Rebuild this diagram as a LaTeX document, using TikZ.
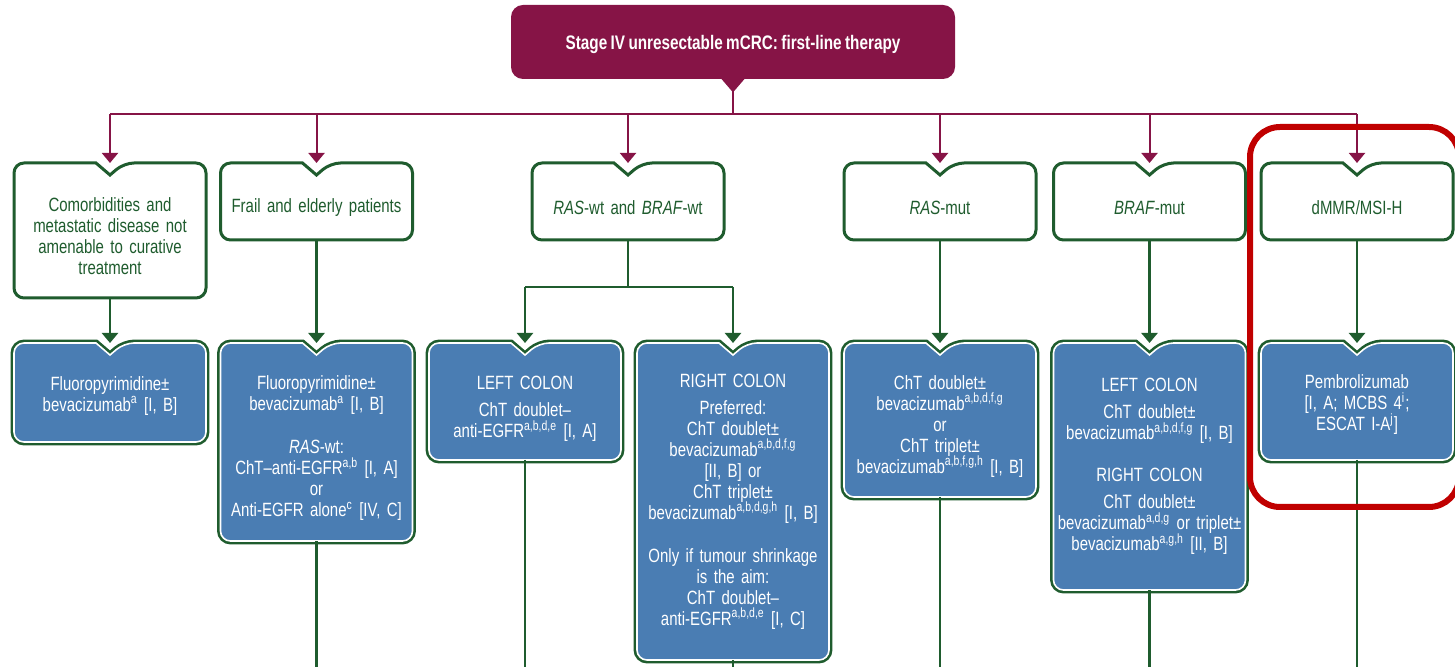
\documentclass[tikz,border=0pt]{standalone}
\usepackage{fontspec}
\setmainfont{Liberation Sans}[FakeStretch=0.78,WordSpace=0.8]
\usetikzlibrary{arrows.meta,backgrounds}
\begin{document}
\begin{tikzpicture}[x=0.5pt,y=-0.5pt,
  card/.style={text width=94pt, inner xsep=1pt, inner ysep=0pt, outer sep=0pt, align=center, font=\fontsize{9.6pt}{10.5pt}\selectfont},
  droptext/.style={execute at begin node={\rule{0pt}{#1}}},
  whitecard/.style={card, text=cardgreen, droptext=13pt},
  bluecard/.style={card, text=white},
  whiteframe/.style={draw=cardgreen, fill=white, line width=1.5pt},
  blueframe/.style={preaction={draw=cardgreen, line width=3.4pt}, fill=cardblue, draw=white, line width=0.8pt},
  trunk/.style={draw=trunkred, line width=1pt},
  link/.style={draw=cardgreen, line width=1.2pt},
  tip/.style={-{Triangle[width=8pt,length=5pt]}},
  focusframe/.style={draw=focusred, line width=3pt, rounded corners=15pt}]
\definecolor{trunkred}{HTML}{861446}
\definecolor{cardgreen}{HTML}{1F5C2E}
\definecolor{cardblue}{HTML}{4A7DB3}
\definecolor{focusred}{HTML}{C00000}
\def\cardpath#1{([xshift=-7pt]#1.north) [rounded corners=5pt] -- (#1.north west) -- (#1.south west) -- (#1.south east) -- (#1.north east) -- ([xshift=7pt]#1.north) [sharp corners] -- ([yshift=-6pt]#1.north) -- cycle}
\useasboundingbox (0,0) rectangle (1455,667);

\coordinate (bus) at (0,114);
\coordinate (split) at (0,287);
\coordinate (base) at (0,672);

\node[fill=trunkred, rounded corners=6pt, minimum width=222pt, minimum height=37pt, text=white, font=\fontsize{9.8pt}{11pt}\selectfont\bfseries] (title) at (733,42) {\rule{0pt}{10pt}Stage IV unresectable mCRC: first-line therapy};
\fill[trunkred] ([xshift=-6pt,yshift=0.5pt]title.south) -- ([yshift=-6.5pt]title.south) -- ([xshift=6pt,yshift=0.5pt]title.south) -- cycle;

\node[whitecard, minimum height=67.5pt] (c1) at (110,230.5) {Comorbidities and\\ metastatic disease not\\ amenable to curative\\ treatment};
\node[whitecard, minimum height=38.5pt] (c2) at (316.5,201.5) {Frail and elderly patients};
\node[whitecard, minimum height=38.5pt] (c3) at (628,201.5) {\textit{RAS}-wt and \textit{BRAF}-wt};
\node[whitecard, minimum height=38.5pt] (c4) at (940,201.5) {\textit{RAS}-mut};
\node[whitecard, minimum height=38.5pt] (c5) at (1149.5,201.5) {\textit{BRAF}-mut};
\node[whitecard, minimum height=38.5pt] (c6) at (1357,201.5) {dMMR/MSI-H};

\node[bluecard, droptext=10pt, minimum height=49.5pt] (b1) at (110,392.5) {Fluoropyrimidine±\\ bevacizumab\textsuperscript{a} [I, B]};
\node[bluecard, droptext=13pt, minimum height=99pt] (b2) at (316.5,442) {Fluoropyrimidine±\\ bevacizumab\textsuperscript{a} [I, B]\\[11pt] \textit{RAS}-wt:\\ ChT–anti-EGFR\textsuperscript{a,b} [I, A]\\ or\\ Anti-EGFR alone\textsuperscript{c} [IV, C]};
\node[bluecard, droptext=14pt, minimum height=58.5pt] (b3) at (525,401.5) {LEFT COLON\\[3pt] ChT doublet–\\ anti-EGFR\textsuperscript{a,b,d,e} [I, A]};
\node[bluecard, minimum height=158.5pt] (b4) at (733,501.5) {RIGHT COLON\\[3pt] Preferred:\\ ChT doublet±\\ bevacizumab\textsuperscript{a,b,d,f,g}\\ {[II, B]} or\\ ChT triplet±\\ bevacizumab\textsuperscript{a,b,d,g,h} [I, B]\\[11pt] Only if tumour shrinkage\\ is the aim:\\ ChT doublet–\\ anti-EGFR\textsuperscript{a,b,d,e} [I, C]};
\node[bluecard, droptext=13pt, minimum height=77pt] (b5) at (940,420) {ChT doublet±\\ bevacizumab\textsuperscript{a,b,d,f,g}\\ or\\ ChT triplet±\\ bevacizumab\textsuperscript{a,b,f,g,h} [I, B]};
\node[bluecard, minimum height=123.5pt] (b6) at (1149.5,466.5) {LEFT COLON\\[3pt] ChT doublet±\\ bevacizumab\textsuperscript{a,b,d,f,g} [I, B]\\[10.5pt] RIGHT COLON\\[3pt] ChT doublet±\\ bevacizumab\textsuperscript{a,d,g} or triplet±\\ bevacizumab\textsuperscript{a,g,h} [II, B]};
\node[bluecard, droptext=10pt, minimum height=58.5pt] (b7) at (1357,401.5) {Pembrolizumab\\ {[I, A; MCBS 4\textsuperscript{i};}\\ ESCAT I-A\textsuperscript{j}]};

\begin{scope}[on background layer]
  \foreach \i in {1,...,6} \draw[whiteframe] \cardpath{c\i};
  \foreach \i in {1,...,7} \draw[blueframe] \cardpath{b\i};
\end{scope}

\draw[trunk] ([yshift=-6pt]title.south) -- (title.south |- bus);
\draw[trunk] (c1.north |- bus) -- (c6.north |- bus);
\foreach \i in {1,...,6} \draw[trunk,tip] (c\i.north |- bus) -- (c\i.north);

\foreach \i/\j in {1/1,2/2,4/5,5/6,6/7} \draw[link,tip] (c\i.south) -- (b\j.north);
\draw[link] (c3.south) -- (c3.south |- split);
\draw[link] (b3.north |- split) -- (b4.north |- split);
\draw[link,tip] (b3.north |- split) -- (b3.north);
\draw[link,tip] (b4.north |- split) -- (b4.north);
\foreach \j in {2,...,7} \draw[link] (b\j.south) -- (b\j.south |- base);

\draw[focusframe] (1250,127) rectangle (1459,507);
\end{tikzpicture}
\end{document}
